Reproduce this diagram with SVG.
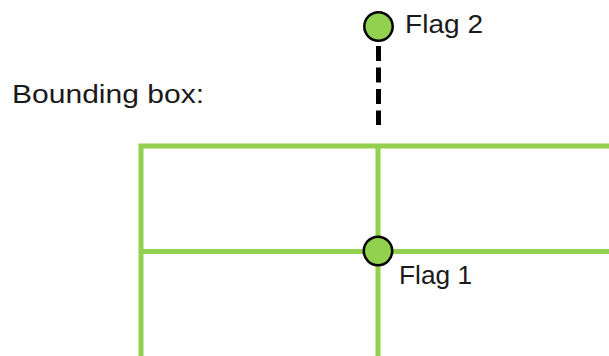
<svg xmlns="http://www.w3.org/2000/svg" width="609" height="356" viewBox="0 0 609 356">
<style>
.grid{stroke:#92d050;stroke-width:5;fill:none}
.flag{fill:#92d050;stroke:#000;stroke-width:2.5}
.lbl{font-family:"Liberation Sans",Arial,sans-serif;font-size:25px;fill:#1a1a1a}
</style>
<rect width="609" height="356" fill="#fff"/>
<g id="bounding-box">
<path class="grid" d="M141 356V146H609M378 146V356M141 251.5H609"/>
</g>
<g id="label-bounding-box"><text class="lbl" x="12" y="103" textLength="192" lengthAdjust="spacingAndGlyphs">Bounding box:</text></g>
<g id="connectors">
<line x1="378.5" y1="46" x2="378.5" y2="125" stroke="#000" stroke-width="5" stroke-dasharray="15 6.5"/>
</g>
<g id="flag1">
<circle class="flag" cx="378" cy="251" r="14.2"/>
<text class="lbl" x="399" y="284" textLength="73" lengthAdjust="spacingAndGlyphs">Flag 1</text>
</g>
<g id="flag2">
<circle class="flag" cx="378.5" cy="26.5" r="14.2"/>
<text class="lbl" x="405" y="33" textLength="78" lengthAdjust="spacingAndGlyphs">Flag 2</text>
</g>
</svg>
